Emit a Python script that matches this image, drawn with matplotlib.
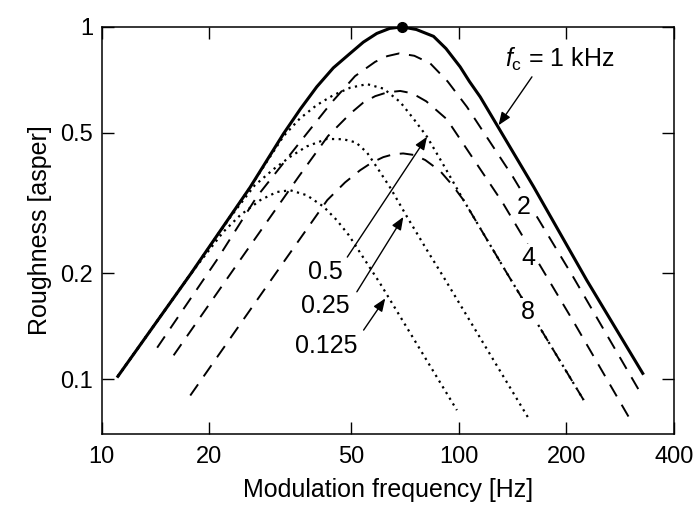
import matplotlib
matplotlib.use("Agg")
import matplotlib.pyplot as plt

plt.rcParams['font.family'] = ['Liberation Sans', 'DejaVu Sans']
plt.rcParams['mathtext.fontset'] = 'custom'
plt.rcParams['mathtext.rm'] = 'Liberation Sans'
plt.rcParams['mathtext.it'] = 'Liberation Sans:italic'

# values (modulation frequency in Hz, roughness in asper)
f_1k = [11.1, 17.8, 26.0, 32.3, 36, 40.0, 44.5, 49.6, 54, 58.9, 64, 69.2, 76, 84.9, 92, 100.8, 107, 114.7, 161.8, 228, 327]
r_1k = [0.102, 0.200, 0.350, 0.498, 0.585, 0.676, 0.765, 0.841, 0.905, 0.958, 0.99, 1.0, 0.983, 0.94, 0.868, 0.770, 0.700, 0.633, 0.352, 0.191, 0.104]

f_2k = [14.3, 21.0, 27.2, 37.5, 44, 51.2, 58.3, 63, 68.1, 75, 83.1, 93, 105.3, 141.5, 209, 325.5]
r_2k = [0.123, 0.218, 0.330, 0.498, 0.61, 0.725, 0.796, 0.826, 0.841, 0.828, 0.788, 0.70, 0.593, 0.376, 0.195, 0.090]

f_4k = [15.9, 24.4, 35.6, 43, 49.6, 54, 58.3, 63, 68.5, 74, 81.0, 92.5, 132.6, 210.4, 298.6]
r_4k = [0.117, 0.218, 0.376, 0.49, 0.567, 0.61, 0.636, 0.652, 0.658, 0.648, 0.615, 0.547, 0.317, 0.1445, 0.0783]

f_8k = [17.7, 32.6, 42.8, 48, 52.9, 57, 61.4, 65.5, 69.8, 75, 80.5, 88.6, 96, 103.0, 136.3, 223.4]
r_8k = [0.090, 0.218, 0.3225, 0.362, 0.392, 0.412, 0.427, 0.435, 0.4375, 0.433, 0.419, 0.39, 0.355, 0.3225, 0.200, 0.0874]

f_500 = [11.1, 17.8, 26.0, 32.3, 35.9, 40.0, 44.5, 49.6, 55.3, 61.5, 68.5, 74.6, 81.4, 90, 103.0, 136.3, 223.4]
r_500 = [0.102, 0.200, 0.350, 0.49, 0.550, 0.600, 0.640, 0.672, 0.688, 0.668, 0.612, 0.549, 0.488, 0.41, 0.3225, 0.200, 0.0874]

f_250 = [11.1, 17.8, 23.0, 26.8, 30.3, 33.7, 37.5, 42.7, 47.5, 51.5, 55.3, 59.4, 64.2, 71.6, 81.4, 90.5, 156.7]
r_250 = [0.102, 0.200, 0.29, 0.355, 0.395, 0.428, 0.458, 0.481, 0.480, 0.47, 0.44, 0.395, 0.35, 0.289, 0.2326, 0.1954, 0.0775]

f_125 = [11.1, 17.8, 21.9, 24.4, 27.8, 30.9, 33.7, 37.5, 41.8, 45.5, 49.1, 60.2, 98.7]
r_125 = [0.102, 0.200, 0.262, 0.292, 0.3225, 0.340, 0.344, 0.333, 0.309, 0.283, 0.257, 0.187, 0.0818]

x_ticks = [10, 20, 50, 100, 200, 400]
y_ticks = [0.1, 0.2, 0.5, 1]
y_ticklabels = ['0.1', '0.2', '0.5', '1']

fig = plt.figure(figsize=(6.94, 5.07), dpi=100)
ax = fig.add_axes([0.1465, 0.144, 0.8247, 0.803])
ax.set_xscale('log')
ax.set_yscale('log')

dash = (0, (7, 5))
dot = (0, (1, 2))
ax.plot(f_125, r_125, color='k', lw=1.6, ls=dot)
ax.plot(f_250, r_250, color='k', lw=1.6, ls=dot)
ax.plot(f_500, r_500, color='k', lw=1.6, ls=dot)
ax.plot(f_8k, r_8k, color='k', lw=1.4, ls=dash)
ax.plot(f_4k, r_4k, color='k', lw=1.4, ls=dash)
ax.plot(f_2k, r_2k, color='k', lw=1.4, ls=dash)
ax.plot(f_1k, r_1k, color='k', lw=2.2)
# peak marker on the 1 kHz curve
i_peak = r_1k.index(max(r_1k))
ax.plot(f_1k[i_peak], r_1k[i_peak], 'o', color='k', ms=7, clip_on=False, zorder=5)

ax.set_xlim(10, 400)
ax.set_ylim(0.07, 1)
ax.minorticks_off()
ax.set_xticks(x_ticks)
ax.set_xticklabels([str(t) for t in x_ticks])
ax.set_yticks(y_ticks)
ax.set_yticklabels(y_ticklabels)
ax.tick_params(direction='in', length=8.5, width=1.0, top=True, right=True, labelsize=17)
ax.tick_params(axis='x', pad=9)
ax.tick_params(axis='y', pad=6)
for s in ax.spines.values():
    s.set_linewidth(1.1)

ax.set_xlabel('Modulation frequency [Hz]', fontsize=18, labelpad=7)
ax.set_ylabel('Roughness [asper]', fontsize=18, labelpad=6)

head = '-|>,head_length=0.55,head_width=0.22'
arr = dict(arrowstyle=head, lw=1.0, color='k', mutation_scale=14, shrinkA=0, shrinkB=0)

ax.text(134.8, 0.770, r'$f_\mathrm{c}$ = 1 kHz', fontsize=18, ha='left', va='baseline')
ax.annotate('', xy=(129.1, 0.526), xytext=(160.1, 0.7215), arrowprops=arr)

wbox = dict(facecolor='white', edgecolor='none', pad=1.5)
ax.text(151.7, 0.3087, '2', fontsize=18, ha='center', va='center', bbox=wbox, zorder=6)
ax.text(156.7, 0.2204, '4', fontsize=18, ha='center', va='center', bbox=wbox, zorder=6)
ax.text(156.4, 0.1555, '8', fontsize=18, ha='center', va='center', bbox=wbox, zorder=6)

ax.text(42.4, 0.202, '0.5', fontsize=18, ha='center', va='center')
ax.text(42.3, 0.1616, '0.25', fontsize=18, ha='center', va='center')
ax.text(42.4, 0.1245, '0.125', fontsize=18, ha='center', va='center')
ax.annotate('', xy=(81.4, 0.4877), xytext=(48.7, 0.2223), arrowprops=arr)
ax.annotate('', xy=(69.9, 0.289), xytext=(51.8, 0.1772), arrowprops=arr)
ax.annotate('', xy=(62.2, 0.1697), xytext=(54.1, 0.138), arrowprops=arr)

fig.savefig('out.png', dpi=100)
